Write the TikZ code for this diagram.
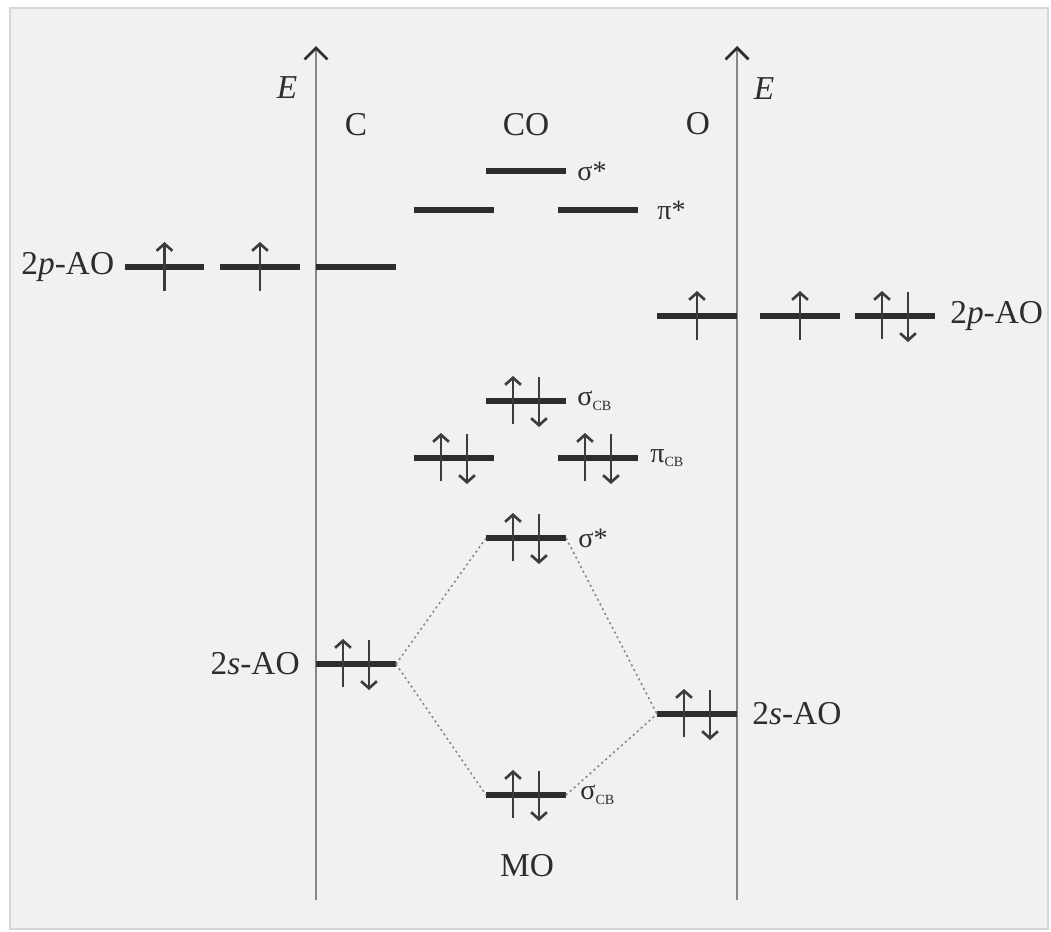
\documentclass[tikz,border=0pt]{standalone}
\usepackage{fontspec}
\setmainfont{Liberation Serif}
\usepackage{tikz}
\usetikzlibrary{arrows.meta, positioning, calc}
\definecolor{levelgray}{RGB}{45,45,45}
\definecolor{spingray}{RGB}{60,60,60}
\definecolor{axisgray}{RGB}{135,135,135}
\definecolor{panelgray}{RGB}{241,241,241}
\definecolor{framegray}{RGB}{214,214,214}

\newcommand{\spinup}[1]{\draw[spin] ($(#1)+(0,24)$) -- ($(#1)+(0,-25)$);}
\newcommand{\spinpair}[1]{%
  \draw[spin] ($(#1)+(-13,23)$) -- ($(#1)+(-13,-25)$);
  \draw[spin] ($(#1)+(13,-24)$) -- ($(#1)+(13,26)$);}

\begin{document}
\begin{tikzpicture}[
    x=0.02cm, y=-0.02cm,
    level/.style={fill=levelgray, minimum width=1.6cm, minimum height=3.4pt, inner sep=0pt, outer sep=0pt},
    spin/.style={draw=spingray, line width=1.2pt, -{Straight Barb[length=4pt, width=9pt, line width=1.5pt]}},
    axis/.style={draw=axisgray, line width=1.2pt, -{Straight Barb[length=6.5pt, width=13pt, line width=1.6pt, color=levelgray]}},
    link/.style={draw=axisgray, line width=0.9pt, dash pattern=on 1.2pt off 1.8pt},
    lbl/.style={font=\fontsize{19}{22}\selectfont, text=levelgray, inner sep=0pt},
    molbl/.style={font=\fontsize{16}{19}\selectfont, text=levelgray, inner sep=0pt, anchor=west},
  ]
  % panel
  \fill[white] (0,0) rectangle (1051,931);
  \useasboundingbox (0,0) rectangle (1051,931);
  \draw[framegray, fill=panelgray, line width=1.5pt] (10,8) rectangle (1048,929);

  % energy axes
  \coordinate (cbot) at (316,900);
  \coordinate (ctop) at (316,46);
  \coordinate (obot) at (737,900);
  \coordinate (otop) at (737,46);
  \draw[axis] (cbot) -- (ctop);
  \draw[axis] (obot) -- (otop);
  \node[lbl, font=\fontsize{19}{22}\selectfont\itshape] (ecl) at (287,88) {E};
  \node[lbl, font=\fontsize{19}{22}\selectfont\itshape] (eol) at (764,89) {E};
  \node[lbl] (chead) at (356,125) {C};
  \node[lbl] (cohead) at (526,125) {CO};
  \node[lbl] (ohead) at (698,124) {O};
  \node[lbl] (molbl) at (527,866) {MO};

  % C levels
  \node[level] (c2pa) at (164.5,267) {};
  \node[level] (c2pb) at (260,267) {};
  \node[level] (c2pc) at (356,267) {};
  \node[level] (c2s) at (356,664) {};
  % O levels
  \node[level] (o2pa) at (697,316) {};
  \node[level] (o2pb) at (800,316) {};
  \node[level] (o2pc) at (895,316) {};
  \node[level] (o2s) at (697,714) {};
  % CO levels
  \node[level] (sigstar) at (526,171) {};
  \node[level] (pistara) at (454,210) {};
  \node[level] (pistarb) at (598,210) {};
  \node[level] (sigcb) at (526,401) {};
  \node[level] (picba) at (454,458) {};
  \node[level] (picbb) at (598,458) {};
  \node[level] (sigsstar) at (526,538) {};
  \node[level] (sigscb) at (526,795) {};

  % level labels
  \node[lbl, left=0.2cm of c2pa] (c2plbl) {2\textit{p}-AO};
  \node[lbl, right=0.3cm of o2pc] (o2plbl) {2\textit{p}-AO};
  \node[lbl, left=0.32cm of c2s] (c2slbl) {2\textit{s}-AO};
  \node[lbl, right=0.3cm of o2s] (o2slbl) {2\textit{s}-AO};
  \node[molbl, right=0.22cm of sigstar] (sigstarlbl) {σ*};
  \node[molbl, right=0.38cm of pistarb] (pistarlbl) {π*};
  \node[molbl, right=0.22cm of sigcb] (sigcblbl) {σ\textsubscript{\footnotesize CB}};
  \node[molbl, right=0.24cm of picbb] (picblbl) {π\textsubscript{\footnotesize CB}};
  \node[molbl, right=0.24cm of sigsstar] (sigsstarlbl) {σ*};
  \node[molbl, right=0.28cm of sigscb] (sigscblbl) {σ\textsubscript{\footnotesize CB}};

  % correlation lines
  \draw[link] (c2s.east) -- (sigsstar.west);
  \draw[link] (c2s.east) -- (sigscb.west);
  \draw[link] (sigsstar.east) -- (o2s.west);
  \draw[link] (sigscb.east) -- (o2s.west);

  % electrons
  \spinup{c2pa}
  \spinup{c2pb}
  \spinup{o2pa}
  \spinup{o2pb}
  \foreach \orb in {o2pc, sigcb, picba, picbb, sigsstar, c2s, o2s, sigscb}
    {\spinpair{\orb}}
\end{tikzpicture}
\end{document}
